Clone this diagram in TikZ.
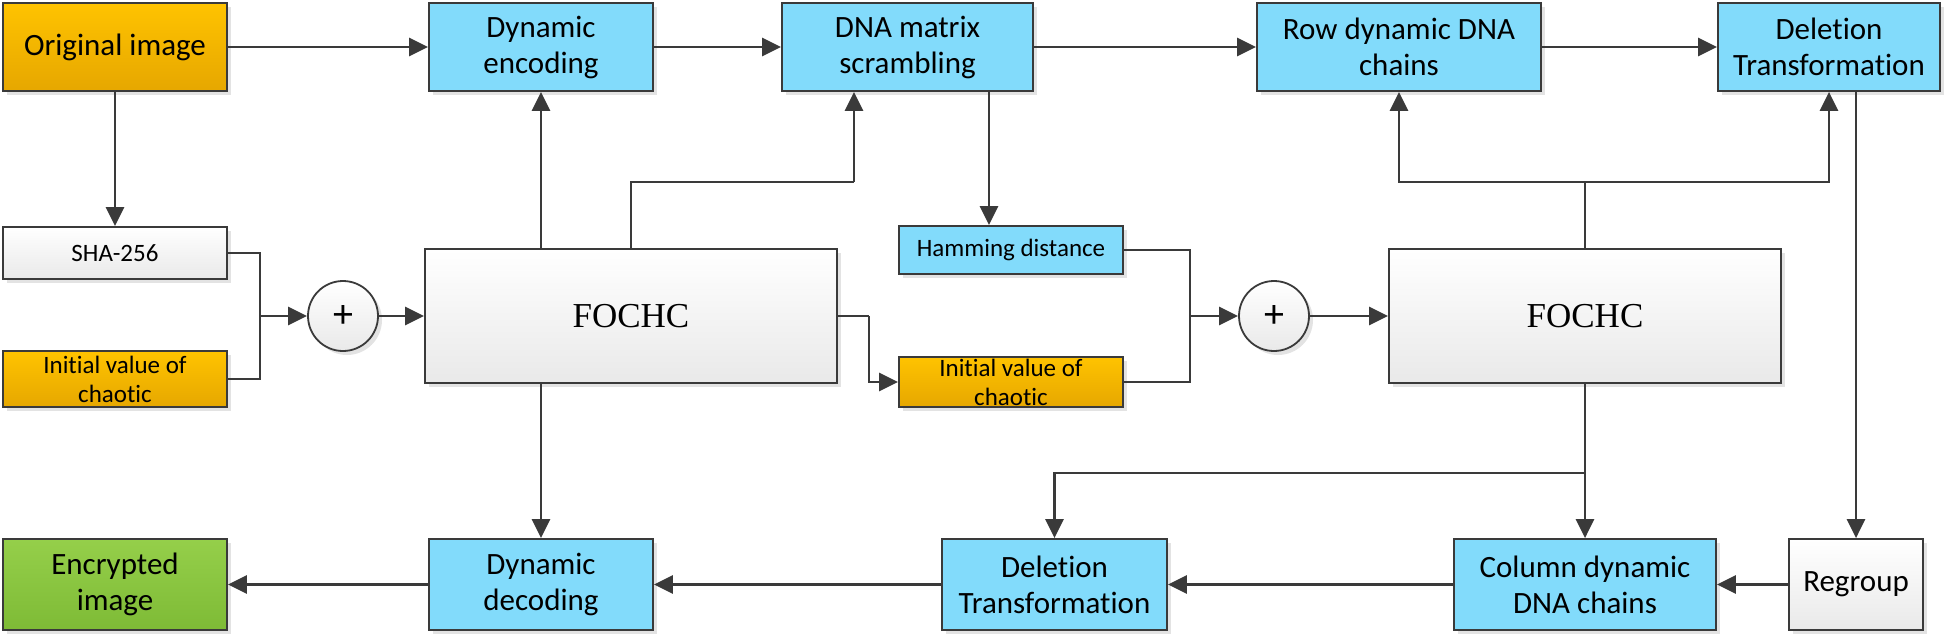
\documentclass[tikz,border=0pt]{standalone}
\usepackage{fontspec}
\setmainfont{Carlito}[Ligatures={NoCommon,NoRare,NoDiscretionary,NoContextual}]
\newfontfamily\tnr{Liberation Serif}
\usetikzlibrary{arrows.meta,shadows,calc}
\definecolor{lnc}{HTML}{3A3A3A}
\definecolor{orT}{HTML}{FFC300}
\definecolor{orB}{HTML}{E6A700}
\definecolor{blu}{HTML}{82DBFB}
\definecolor{grT}{HTML}{95CF4A}
\definecolor{grB}{HTML}{7EBB36}
\definecolor{gyB}{HTML}{E9E9E9}
\tikzset{
  base/.style={draw=lnc, line width=1.8pt, inner sep=2pt, align=center,
    drop shadow={opacity=0.22, shadow xshift=4pt, shadow yshift=-4pt}},
  orbox/.style={base, top color=orT, bottom color=orB},
  blbox/.style={base, fill=blu},
  grbox/.style={base, top color=grT, bottom color=grB},
  wbox/.style={base, top color=white, bottom color=gyB},
  big/.style={font=\fontsize{31}{36}\selectfont},
  small/.style={font=\fontsize{25}{29}\selectfont},
  plus/.style={circle, draw=lnc, line width=1.8pt, top color=white, bottom color=gyB,
    minimum size=70pt, inner sep=0pt, font=\fontsize{40}{40}\selectfont,
    drop shadow={opacity=0.22, shadow xshift=4pt, shadow yshift=-4pt}},
  conn/.style={draw=lnc, line width=2.8pt},
  arr/.style={conn, -{Triangle[length=19pt,width=18pt]}}
}
\begin{document}
\begin{tikzpicture}[x=1pt,y=-1pt]
\useasboundingbox (0,0) rectangle (1955,638);
% top row
\node[orbox,big,minimum width=224pt,minimum height=88pt] (orig) at (115,47) {Original image};
\node[blbox,big,minimum width=224pt,minimum height=88pt] (enc) at (541,47) {Dynamic\\encoding};
\node[blbox,big,minimum width=251pt,minimum height=88pt] (dna) at (907.5,47) {DNA matrix\\scrambling};
\node[blbox,big,minimum width=284pt,minimum height=88pt] (row) at (1399,47) {Row dynamic DNA\\chains};
\node[blbox,big,minimum width=222pt,minimum height=88pt] (delT) at (1829,47) {Deletion\\Transformation};
% middle row
\node[wbox,small,minimum width=224pt,minimum height=52pt] (sha) at (115,253) {SHA-256};
\node[orbox,small,minimum width=224pt,minimum height=56pt] (init1) at (115,379) {Initial value of\\chaotic};
\node[plus] (c1) at (343,316) {+};
\node[wbox,minimum width=412pt,minimum height=134pt,font=\tnr\fontsize{35}{40}\selectfont] (foc1) at (631,316) {FOCHC};
\node[blbox,small,minimum width=224pt,minimum height=48pt] (ham) at (1011,250) {Hamming distance};
\node[orbox,small,minimum width=224pt,minimum height=50pt] (init2) at (1011,382) {Initial value of\\chaotic};
\node[plus] (c2) at (1274,316) {+};
\node[wbox,minimum width=392pt,minimum height=134pt,font=\tnr\fontsize{35}{40}\selectfont] (foc2) at (1585,316) {FOCHC};
% bottom row
\node[grbox,big,minimum width=224pt,minimum height=91pt] (encimg) at (115,584.5) {Encrypted\\image};
\node[blbox,big,minimum width=224pt,minimum height=91pt] (dec) at (541,584.5) {Dynamic\\decoding};
\node[blbox,big,minimum width=225pt,minimum height=91pt] (delB) at (1054.5,584.5) {Deletion\\Transformation};
\node[blbox,big,minimum width=262pt,minimum height=91pt] (col) at (1585,584.5) {Column dynamic\\DNA chains};
\node[wbox,big,minimum width=134pt,minimum height=91pt] (reg) at (1856,584.5) {Regroup};
% coordinates
\coordinate (j1) at (260,316);
\coordinate (b1) at (854,182);
\coordinate (k1) at (869,316);
\coordinate (j2) at (1190,316);
\coordinate (b2) at (1585,182);
\coordinate (b3) at (1585,473);
\coordinate (hx) at (989,0);
\coordinate (rx) at (1856,0);
% connectors top row
\draw[arr] (orig.east) -- (enc.west);
\draw[arr] (enc.east) -- (dna.west);
\draw[arr] (dna.east) -- (row.west);
\draw[arr] (row.east) -- (delT.west);
\draw[arr] (orig.south) -- (sha.north);
% left merge
\draw[conn] (sha.east) -| (j1) |- (init1.east);
\draw[arr] (j1) -- (c1.west);
\draw[arr] (c1.east) -- (foc1.west);
\draw[arr] (enc.south |- foc1.north) -- (enc.south);
\draw[conn] (foc1.north) |- (b1);
\draw[arr] (b1) -- (b1 |- dna.south);
\draw[arr] (hx |- dna.south) -- (hx |- ham.north);
\draw[conn] (foc1.east) -- (k1);
\draw[arr] (k1) |- (init2.west);
% right merge
\draw[conn] (ham.east) -| (j2) |- (init2.east);
\draw[arr] (j2) -- (c2.west);
\draw[arr] (c2.east) -- (foc2.west);
\draw[conn] (foc2.north) -- (b2);
\draw[arr] (b2) -| (row.south);
\draw[arr] (b2) -| (delT.south);
\draw[arr] (rx |- delT.south) -- (reg.north);
% bottom
\draw[arr] (foc2.south) -- (col.north);
\draw[arr] (b3) -| (delB.north);
\draw[arr] (reg.west) -- (col.east);
\draw[arr] (col.west) -- (delB.east);
\draw[arr] (delB.west) -- (dec.east);
\draw[arr] (dec.west) -- (encimg.east);
\draw[arr] (dec.north |- foc1.south) -- (dec.north);
\end{tikzpicture}
\end{document}
